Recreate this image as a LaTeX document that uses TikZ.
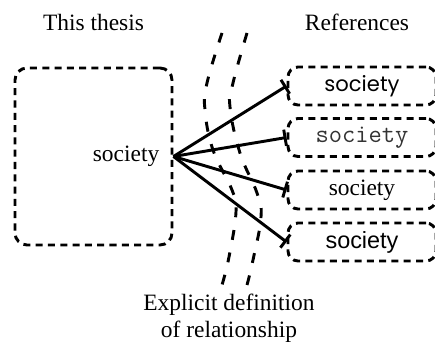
\documentclass[tikz,border=0pt]{standalone}
\usepackage{fontspec}
\setmainfont{Liberation Serif}
\newfontfamily\gothicfont{Poppins}
\newfontfamily\plainsans{Liberation Sans}
\usetikzlibrary{positioning,arrows.meta}
\definecolor{Ink}{HTML}{000000}
\definecolor{Mono}{HTML}{333333}

\begin{document}
\begin{tikzpicture}[x=0.03cm,y=-0.03cm,font=\fontsize{20}{23}\selectfont,every node/.style={text=Ink},region/.style={draw=Ink,line width=2.5pt,dash pattern=on 6pt off 4.5pt,rounded corners=0.36cm,minimum width=4.71cm,minimum height=5.31cm},refbox/.style={draw=Ink,line width=2.5pt,dash pattern=on 6pt off 4.5pt,rounded corners=0.3cm,minimum width=4.44cm,minimum height=1.14cm},link/.style={draw=Ink,line width=2.5pt,-{Bar[width=14pt,line width=2.5pt]}},boundary/.style={draw=Ink,line width=2.5pt,dash pattern=on 8.5pt off 11pt}]
\useasboundingbox (0,0) rectangle (435,347);
\def\xref{362}\def\yone{86}\def\ytwo{137.5}\def\ythree{190}\def\yfour{242}
\node (thesis) [region] at (93.5,156.5) {};
\node (topic) [left=0.42cm of thesis.east,inner sep=0pt] {society};
\node (thesishead) at (93.5,22) {This thesis};
\node (r1) [refbox] at (\xref,\yone) {\gothicfont\fontsize{18}{20}\selectfont society};\node (r2) [refbox] at (\xref,\ytwo) {\ttfamily\fontsize{22}{24}\selectfont\color{Mono}society};\node (r3) [refbox] at (\xref,\ythree) {society};\node (r4) [refbox] at (\xref,\yfour) {\plainsans society};
\node (refhead) at (357,22) {References};
\draw[boundary] plot[smooth,tension=0.7] coordinates {(222,33) (207,83) (205,110) (213,150) (232,190) (236,212) (229,257) (222,285)};
\draw[boundary] plot[smooth,tension=0.7] coordinates {(247,33) (233,83) (230,107) (240,153) (257,193) (261,217) (253,260) (247,285)};
\node (explicit) [align=center] at (229,318) {Explicit definition\\of relationship};
\draw[link] (thesis.east) -- (r1.west);\draw[link] (thesis.east) -- (r2.west);\draw[link] (thesis.east) -- (r3.west);\draw[link] (thesis.east) -- (r4.west);
\end{tikzpicture}
\end{document}
